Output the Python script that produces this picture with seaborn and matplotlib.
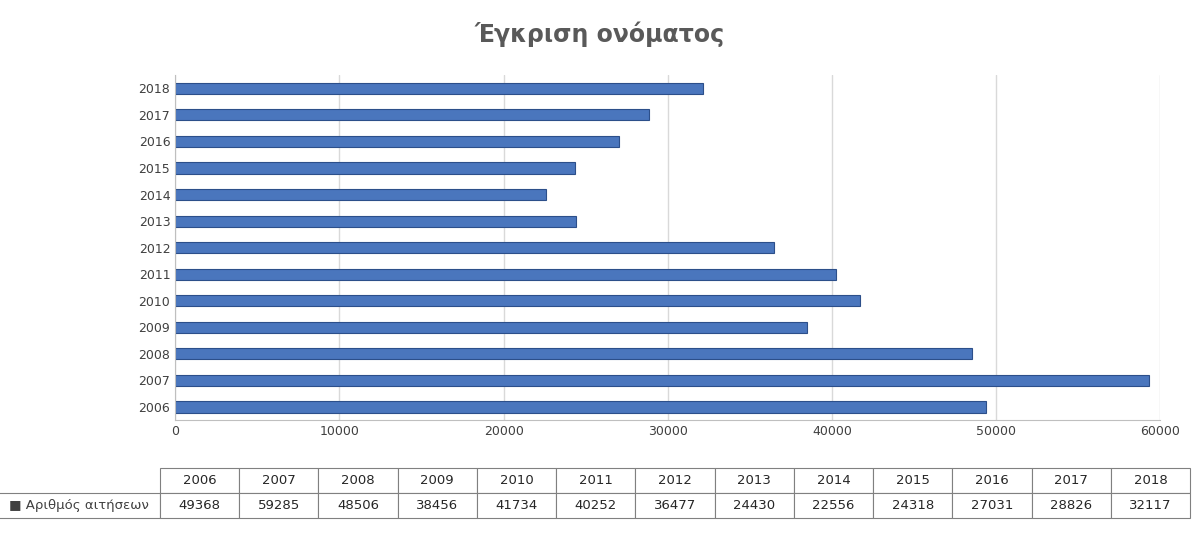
import seaborn as sns
import matplotlib.pyplot as plt
import pandas as pd

years = ['2006', '2007', '2008', '2009', '2010', '2011', '2012',
         '2013', '2014', '2015', '2016', '2017', '2018']
requests = [49368, 59285, 48506, 38456, 41734, 40252, 36477,
            24430, 22556, 24318, 27031, 28826, 32117]
series_name = 'Αριθμός αιτήσεων'

sns.set_style('white')
plt.rcParams['font.family'] = ['DejaVu Sans']

df = pd.DataFrame({'year': years, 'n': requests})

fig = plt.figure(figsize=(12, 5.36), dpi=100)
ax = fig.add_axes([0.146, 0.216, 0.821, 0.644])

sns.barplot(data=df, x='n', y='year', order=years[::-1], color='#4a76bd',
            width=0.42, edgecolor='#2c4f8a', linewidth=0.8, saturation=1, ax=ax)

ax.set_xlim(0, 60000)
ax.set_xticks(range(0, 60001, 10000))
ax.grid(axis='x', color='#d9d9d9', linewidth=1)
ax.set_axisbelow(True)
for s in ['top', 'right']:
    ax.spines[s].set_visible(False)
ax.spines['left'].set_color('#bfbfbf')
ax.spines['bottom'].set_color('#bfbfbf')
ax.tick_params(labelsize=9, colors='#404040', length=0)
ax.set_xlabel('')
ax.set_ylabel('')

fig.suptitle('Έγκριση ονόματος', x=0.5, y=0.96, fontsize=17,
             fontweight='bold', color='#595959')

# data table below the chart
tax = fig.add_axes([160 / 1200, 18 / 536, 1030 / 1200, 50 / 536])
tax.axis('off')
tab = tax.table(cellText=[[str(v) for v in requests]], colLabels=years,
                rowLabels=['■ ' + series_name], cellLoc='center',
                rowLoc='left', bbox=[0, 0, 1, 1])
tab.auto_set_font_size(False)
tab.set_fontsize(9.5)
for (r, c), cell in tab.get_celld().items():
    cell.set_edgecolor('#808080')
    cell.set_linewidth(0.8)
    if c == -1:
        cell.get_text().set_color('#404040')
        cell.set_width(153 / 1030)
tab[(1, -1)].get_text().set_text('■ ' + series_name)

fig.savefig('out.png', dpi=100)
